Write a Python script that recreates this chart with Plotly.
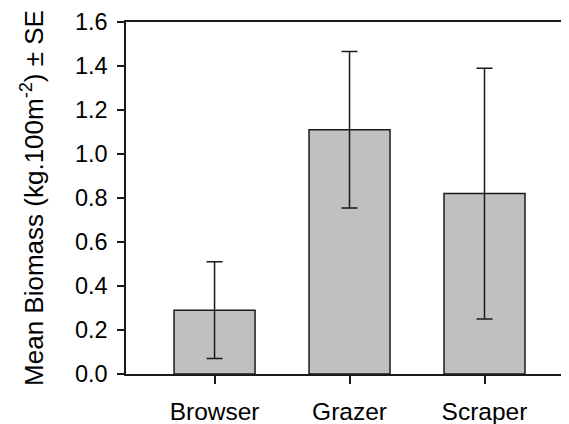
import plotly.graph_objects as go

categories = ["Browser", "Grazer", "Scraper"]
mean_biomass = [0.29, 1.11, 0.82]
std_error = [0.22, 0.356, 0.57]
y_tick_values = [0.0, 0.2, 0.4, 0.6, 0.8, 1.0, 1.2, 1.4, 1.6]
y_tick_labels = ["0.0", "0.2", "0.4", "0.6", "0.8", "1.0", "1.2", "1.4", "1.6"]

FONT = "Liberation Sans, Arial, sans-serif"
LINE = "#1a1a1a"

fig = go.Figure(
    go.Bar(
        x=list(range(len(categories))),
        y=mean_biomass,
        width=0.6,
        marker=dict(color="#c0c0c0", line=dict(color=LINE, width=1.5)),
        error_y=dict(type="data", array=std_error, visible=True,
                     color=LINE, thickness=1.5, width=8),
    )
)

# page body has an 8px default margin: figure is sized to fit the window
fig.update_layout(
    width=561, height=416,
    margin=dict(l=118, r=0, t=14, b=50, autoexpand=False),
    plot_bgcolor="white", paper_bgcolor="white",
    font=dict(family=FONT, size=22, color="black"),
    showlegend=False,
)

fig.update_xaxes(
    range=[-0.656, 2.626],
    tickmode="array", tickvals=list(range(len(categories))), ticktext=categories,
    ticks="outside", ticklen=8, tickwidth=1.5, tickcolor=LINE,
    showline=True, linecolor=LINE, linewidth=1.5, mirror=True,
    showgrid=False, zeroline=False,
    tickfont=dict(size=24.5), ticklabelstandoff=7,
    automargin=False,
)

fig.update_yaxes(
    range=[0, 1.6],
    tickmode="array", tickvals=y_tick_values, ticktext=y_tick_labels,
    ticks="outside", ticklen=7, tickwidth=1.5, tickcolor=LINE,
    showline=True, linecolor=LINE, linewidth=1.5,
    showgrid=False, zeroline=False,
    tickfont=dict(size=23.5), ticklabelstandoff=5,
    title=dict(text="Mean Biomass (kg.100m<sup>-2</sup>) ± SE",
               font=dict(size=26), standoff=24),
    automargin=False,
)

fig.write_html("out.html")
